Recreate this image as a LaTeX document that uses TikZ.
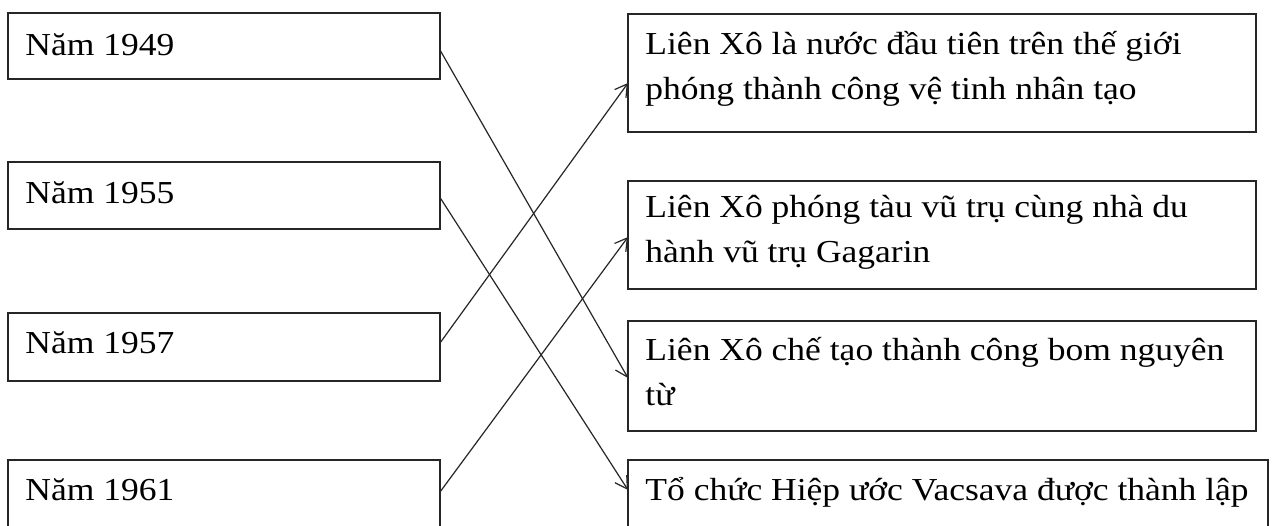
\documentclass[tikz,border=0pt]{standalone}
\usepackage{fontspec}
\setmainfont{Liberation Serif}[FakeStretch=1.11]
\usetikzlibrary{arrows.meta}
\begin{document}
\begin{tikzpicture}[x=0.5pt,y=-0.5pt,
  box/.style={draw=black!85,line width=0.95pt,rectangle,inner sep=0pt,outer sep=0pt,anchor=north west},
  lbl/.style={inner sep=0pt,anchor=base west,align=left,font=\fontsize{16}{22.5}\selectfont},
  link/.style={draw=black!85,line width=0.6pt,-{Straight Barb[length=6pt,width=7pt,line width=0.6pt]}}]
\useasboundingbox[fill=white] (0,0) rectangle (1274,525);
% left boxes
\node[box,minimum width=216pt,minimum height=33pt] (L1) at (8,13) {};
\node[box,minimum width=216pt,minimum height=33.5pt] (L2) at (8,162) {};
\node[box,minimum width=216pt,minimum height=34pt] (L3) at (8,313) {};
\node[box,minimum width=216pt,minimum height=36pt] (L4) at (8,460) {};
\node[lbl] (t1) at (25,55) {Năm 1949};
\node[lbl] (t2) at (25,203) {Năm 1955};
\node[lbl] (t3) at (25,353) {Năm 1957};
\node[lbl] (t4) at (25,500) {Năm 1961};
% right boxes
\node[box,minimum width=314pt,minimum height=59pt] (R1) at (628,14) {};
\node[box,minimum width=314pt,minimum height=54pt] (R2) at (628,181) {};
\node[box,minimum width=314pt,minimum height=55pt] (R3) at (628,321) {};
\node[box,minimum width=320pt,minimum height=36pt] (R4) at (628,460) {};
\node[lbl] (s1) at (645,99) {Liên Xô là nước đầu tiên trên thế giới\\phóng thành công vệ tinh nhân tạo};
\node[lbl] (s2) at (645,262) {Liên Xô phóng tàu vũ trụ cùng nhà du\\hành vũ trụ Gagarin};
\node[lbl] (s3) at (645,405) {Liên Xô chế tạo thành công bom nguyên\\từ};
\node[lbl] (s4) at (645,500) {Tổ chức Hiệp ước Vacsava được thành lập};
% connectors
\draw[link] ([yshift=-2pt]L1.east) -- ([yshift=-1pt]R3.west);
\draw[link] ([yshift=-1pt]L2.east) -- ([yshift=3pt]R4.west);
\draw[link] ([yshift=2pt]L3.east) -- ([yshift=-5pt]R1.west);
\draw[link] ([yshift=2pt]L4.east) -- ([yshift=-1pt]R2.west);
\end{tikzpicture}
\end{document}
